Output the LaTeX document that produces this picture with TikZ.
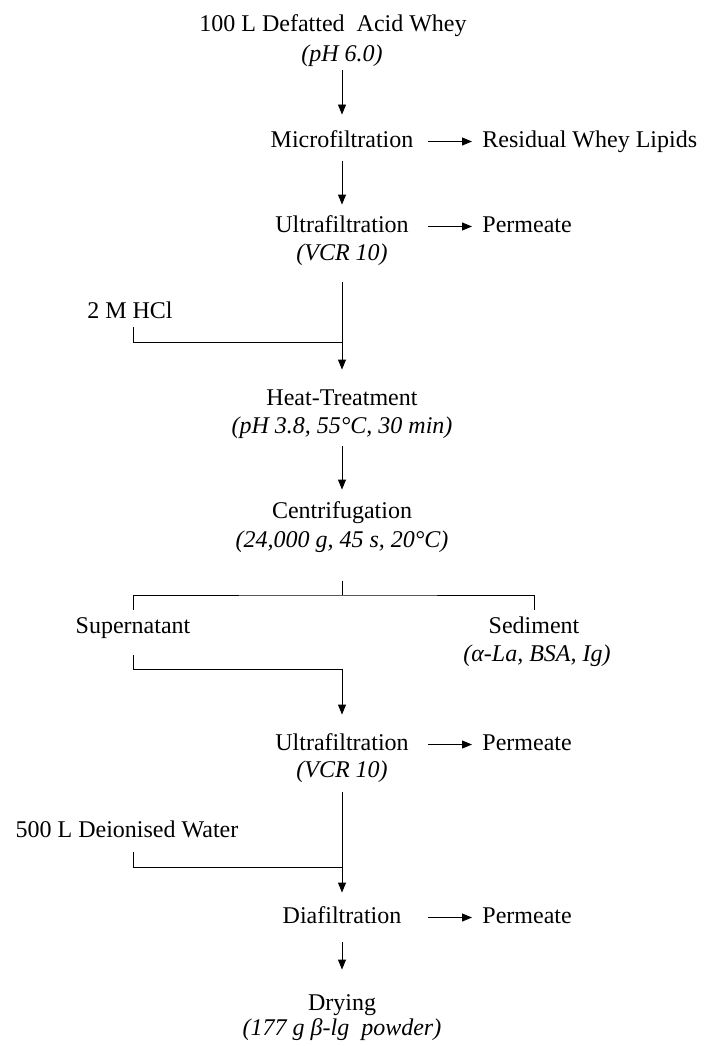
\documentclass[tikz,border=0pt]{standalone}
\usepackage{fontspec}
\setmainfont{Liberation Serif}
\usetikzlibrary{arrows.meta}

\begin{document}
\begin{tikzpicture}[x=1pt, y=-1pt, line width=0.9pt, >={Triangle[length=10pt,width=8pt]},
    every node/.style = {inner sep=0pt, text height=16pt, text depth=5pt, font=\fontsize{24}{28}\selectfont},
    stage/.style = {anchor=base, minimum width=172pt},
    cond/.style = {anchor=base, font=\fontsize{24}{28}\selectfont\itshape},
    waste/.style = {anchor=base west},
    addin/.style = {anchor=base}]
    \useasboundingbox (0,0) rectangle (710,1046);
    % main column
    \node[stage] (feed) at (333,32) {100 L Defatted\ \ Acid Whey};
    \node[cond] (feedn) at (342,62) {(pH 6.0)};
    \node[stage] (mf) at (342,147) {Microfiltration};
    \node[stage] (uf1) at (342,232) {Ultrafiltration};
    \node[cond] (uf1n) at (342,260) {(VCR 10)};
    \node[stage] (heat) at (342,405) {Heat-Treatment};
    \node[cond] (heatn) at (342,433) {(pH 3.8, 55°C, 30 min)};
    \node[stage] (cf) at (342,518) {Centrifugation};
    \node[cond] (cfn) at (342,547) {(24,000 g, 45 s, 20°C)};
    \node[stage] (uf2) at (342,750) {Ultrafiltration};
    \node[cond] (uf2n) at (342,777) {(VCR 10)};
    \node[stage] (dia) at (342,923) {Diafiltration};
    \node[stage] (dry) at (342,1010) {Drying};
    \node[cond] (dryn) at (342,1035) {(177 g β-lg\ \ powder)};
    % side streams
    \node[waste] (res) at (482,147) {Residual Whey Lipids};
    \node[waste] (perm1) at (482,232) {Permeate};
    \node[waste] (perm2) at (482,750) {Permeate};
    \node[waste] (perm3) at (482,923) {Permeate};
    \node[addin] (hcl) at (130,318) {2 M HCl};
    \node[addin] (sup) at (133,633) {Supernatant};
    \node[addin] (sed) at (534,633) {Sediment};
    \node[cond] (sedn) at (537,661) {(α-La, BSA, Ig)};
    \node[addin] (water) at (127,837) {500 L Deionised Water};
    \coordinate (hclj) at (342,342);
    \coordinate (split) at (342,595);
    \coordinate (supj) at (342,669);
    \coordinate (waterj) at (342,867);

    \draw[->, shorten <=3pt, shorten >=16pt] (feedn) -- (mf);
    \draw[->, shorten <=9pt, shorten >=11pt] (mf) -- (uf1);
    \draw[->, shorten <=17pt, shorten >=19pt] (uf1n) -- (heat);
    \draw[->, shorten <=8pt, shorten >=12pt] (heatn) -- (cf);
    \draw[shorten <=29pt] (cfn) -- (split);
    \draw[shorten <=7pt, shorten >=7pt] (sup) |- (split) -| (sed);
    \draw[->, shorten <=17pt, shorten >=19pt] (sup) |- (supj) -- (uf2);
    \draw[->, shorten <=10pt, shorten >=14pt] (uf2n) -- (dia);
    \draw[->, shorten <=14pt, shorten >=24pt] (dia) -- (dry);
    \draw[shorten <=4pt] ([xshift=3pt]hcl.south) |- (hclj);
    \draw[shorten <=10pt] ([xshift=6pt]water.south) |- (waterj);
    \draw[->, shorten >=10pt] (mf) -- (res);
    \draw[->, shorten >=10pt] (uf1) -- (perm1);
    \draw[->, shorten >=10pt] (uf2) -- (perm2);
    \draw[->, shorten >=10pt] (dia) -- (perm3);
\end{tikzpicture}
\end{document}
